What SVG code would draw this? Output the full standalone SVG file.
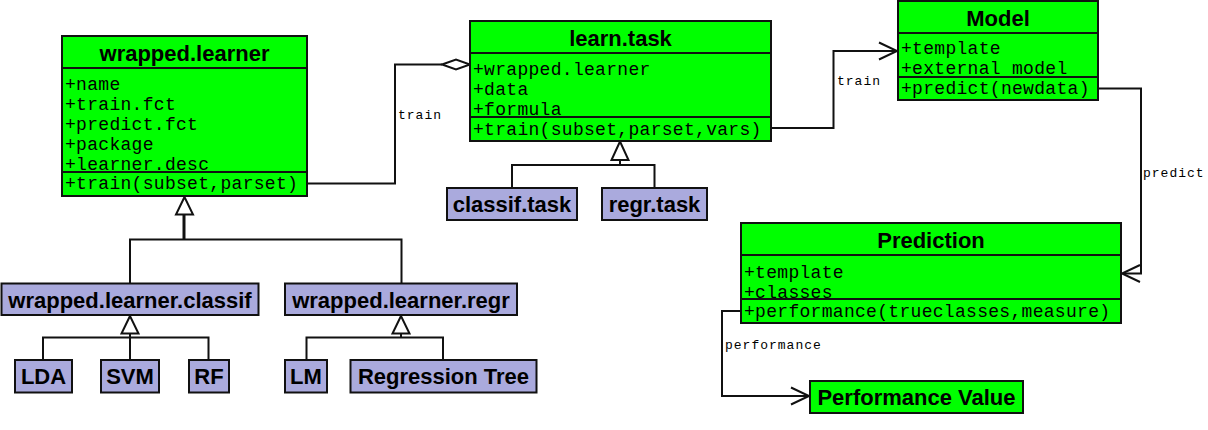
<svg xmlns="http://www.w3.org/2000/svg" width="1208" height="430" viewBox="0 0 1208 430">
<style>
.cls{fill:#00FF00;stroke:#111;stroke-width:2}
.sub{fill:#AAAADD;stroke:#111;stroke-width:2}
.sep{stroke:#111;stroke-width:2}
.title{font-family:"Liberation Sans",Arial,sans-serif;font-weight:bold;font-size:22px;fill:#000;text-anchor:middle}
.attr{font-family:"Liberation Mono","Courier New",monospace;font-size:18px;letter-spacing:0.3px;fill:#000}
.lbl{font-family:"Liberation Mono","Courier New",monospace;font-size:13px;letter-spacing:1px;fill:#000}
.ln{fill:none;stroke:#111;stroke-width:2}
.tri{fill:#fff;stroke:#111;stroke-width:2}
</style>
<rect width="1208" height="430" fill="#fff"/>
<g id="connectors">
  <polyline class="ln" points="307,183.5 395,183.5 395,64.5 442,64.5"/>
  <polygon class="tri" points="442,64.5 456,59.5 470,64.5 456,69.5"/>
  <polyline class="ln" points="771,128 833.5,128 833.5,51 896,51"/>
  <polyline class="ln" points="879,42.5 897,51 879,59.5"/>
  <polyline class="ln" points="1098,88.5 1141,88.5 1141,273.5 1123,273.5"/>
  <polyline class="ln" points="1140,265 1122,273.5 1140,282"/>
  <polyline class="ln" points="741,311 722,311 722,396 808,396"/>
  <polyline class="ln" points="791,387.5 809,396 791,404.5"/>
  <line class="ln" x1="184" y1="214" x2="184" y2="239.5" style="stroke-width:3"/>
  <polyline class="ln" points="130,283.5 130,239.5 401.5,239.5 401.5,283.5"/>
  <polygon class="tri" points="184.5,197 176,214.5 193,214.5"/>
  <line class="ln" x1="130" y1="333" x2="130" y2="360"/>
  <polyline class="ln" points="43,360 43,337.5 208.5,337.5 208.5,360"/>
  <polygon class="tri" points="130,316 121.5,333.5 138.5,333.5"/>
  <line class="ln" x1="401" y1="333" x2="401" y2="337.5"/>
  <polyline class="ln" points="306.5,360 306.5,337.5 443,337.5 443,360"/>
  <polygon class="tri" points="401,316 392.5,333.5 409.5,333.5"/>
  <line class="ln" x1="620" y1="160" x2="620" y2="165"/>
  <polyline class="ln" points="512,188 512,165 654.5,165 654.5,188"/>
  <polygon class="tri" points="620,141.5 611.5,160 628.5,160"/>
  <text class="lbl" x="398" y="119">train</text>
  <text class="lbl" x="837" y="85">train</text>
  <text class="lbl" x="1143" y="177">predict</text>
  <text class="lbl" x="725" y="349">performance</text>
</g>
<g id="wrapped_learner">
  <rect class="cls" x="62" y="36" width="245" height="160"/>
  <line class="sep" x1="62" y1="68" x2="307" y2="68"/>
  <text class="title" x="184.5" y="61">wrapped.learner</text>
  <text class="attr" x="65" y="90">+name</text>
  <text class="attr" x="65" y="110">+train.fct</text>
  <text class="attr" x="65" y="130">+predict.fct</text>
  <text class="attr" x="65" y="150">+package</text>
  <text class="attr" x="65" y="170">+learner.desc</text>
  <rect class="cls" x="62" y="172" width="245" height="24"/>
  <text class="attr" x="65" y="189">+train(subset,parset)</text>
</g>
<g id="learn_task">
  <rect class="cls" x="470" y="21" width="301" height="120"/>
  <line class="sep" x1="470" y1="53" x2="771" y2="53"/>
  <text class="title" x="620.5" y="46">learn.task</text>
  <text class="attr" x="473" y="75">+wrapped.learner</text>
  <text class="attr" x="473" y="95">+data</text>
  <text class="attr" x="473" y="115">+formula</text>
  <rect class="cls" x="470" y="117" width="301" height="24"/>
  <text class="attr" x="473" y="135">+train(subset,parset,vars)</text>
</g>
<g id="model">
  <rect class="cls" x="898" y="1" width="200" height="99"/>
  <line class="sep" x1="898" y1="33" x2="1098" y2="33"/>
  <text class="title" x="998" y="26">Model</text>
  <text class="attr" x="901" y="54">+template</text>
  <text class="attr" x="901" y="74">+external model</text>
  <rect class="cls" x="898" y="77" width="200" height="23"/>
  <text class="attr" x="901" y="94">+predict(newdata)</text>
</g>
<g id="prediction">
  <rect class="cls" x="741" y="223" width="380" height="100"/>
  <line class="sep" x1="741" y1="255" x2="1121" y2="255"/>
  <text class="title" x="931" y="248">Prediction</text>
  <text class="attr" x="744" y="277.5">+template</text>
  <text class="attr" x="744" y="297.5">+classes</text>
  <rect class="cls" x="741" y="299" width="380" height="24"/>
  <text class="attr" x="744" y="317">+performance(trueclasses,measure)</text>
</g>
<g id="performance_value">
  <rect class="cls" x="810" y="381" width="213" height="32"/>
  <text class="title" x="916.5" y="405">Performance Value</text>
</g>
<g id="classif_task">
  <rect class="sub" x="447" y="188" width="130" height="32"/>
  <text class="title" x="512" y="212">classif.task</text>
</g>
<g id="regr_task">
  <rect class="sub" x="602" y="188" width="105" height="32"/>
  <text class="title" x="654.5" y="212">regr.task</text>
</g>
<g id="wrapped_learner_classif">
  <rect class="sub" x="1.5" y="283.5" width="257" height="31.5"/>
  <text class="title" x="130" y="307.5">wrapped.learner.classif</text>
</g>
<g id="wrapped_learner_regr">
  <rect class="sub" x="285" y="283.5" width="232" height="31.5"/>
  <text class="title" x="401" y="307.5">wrapped.learner.regr</text>
</g>
<g id="lda">
  <rect class="sub" x="15" y="360" width="57" height="32.5"/>
  <text class="title" x="43.5" y="384">LDA</text>
</g>
<g id="svm">
  <rect class="sub" x="101" y="360" width="58" height="32.5"/>
  <text class="title" x="130" y="384">SVM</text>
</g>
<g id="rf">
  <rect class="sub" x="189" y="360" width="40" height="32.5"/>
  <text class="title" x="209" y="384">RF</text>
</g>
<g id="lm">
  <rect class="sub" x="285" y="360" width="42" height="32.5"/>
  <text class="title" x="306" y="384">LM</text>
</g>
<g id="regression_tree">
  <rect class="sub" x="350.5" y="360" width="186" height="32.5"/>
  <text class="title" x="443.5" y="384">Regression Tree</text>
</g>
</svg>
